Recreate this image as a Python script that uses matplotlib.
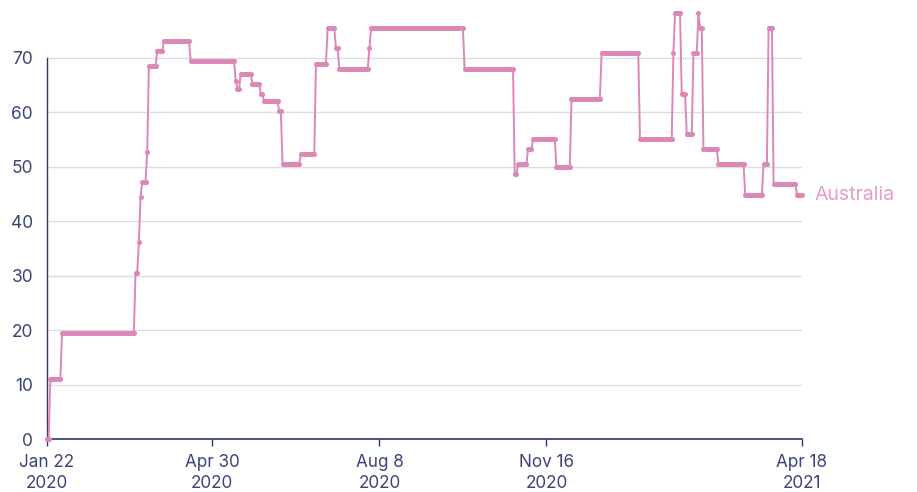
import matplotlib
matplotlib.use("Agg")
import matplotlib.pyplot as plt
import pandas as pd
import numpy as np

plt.rcParams['font.family'] = ['Inter', 'DejaVu Sans']

country = "Australia"
# Stringency index: dates when the value changes, and the new value
change_dates = [
    "2020-01-22", "2020-01-24", "2020-01-31", "2020-03-15", "2020-03-17",
    "2020-03-18", "2020-03-19", "2020-03-22", "2020-03-23", "2020-03-28",
    "2020-04-01", "2020-04-17", "2020-05-14", "2020-05-15", "2020-05-17",
    "2020-05-24", "2020-05-29", "2020-05-31", "2020-06-09", "2020-06-11",
    "2020-06-22", "2020-07-01", "2020-07-08", "2020-07-13", "2020-07-15",
    "2020-08-02", "2020-08-03", "2020-09-28", "2020-10-28", "2020-10-30",
    "2020-11-05", "2020-11-08", "2020-11-22", "2020-12-01", "2020-12-19",
    "2021-01-11", "2021-01-31", "2021-02-01", "2021-02-05", "2021-02-08",
    "2021-02-12", "2021-02-15", "2021-02-16", "2021-02-18", "2021-02-27",
    "2021-03-15", "2021-03-26", "2021-03-29", "2021-04-01", "2021-04-15",
]
change_values = [
    0.0, 11.11, 19.44, 30.56, 36.11,
    44.44, 47.22, 52.78, 68.52, 71.30,
    73.15, 69.44, 65.74, 64.35, 67.13,
    65.28, 63.43, 62.04, 60.19, 50.46,
    52.31, 68.98, 75.46, 71.76, 67.96,
    71.76, 75.46, 67.96, 48.61, 50.46,
    53.24, 55.09, 50.00, 62.50, 70.83,
    55.09, 70.83, 78.24, 63.43, 56.02,
    70.83, 78.24, 75.46, 53.24, 50.46,
    44.91, 50.46, 75.46, 46.76, 44.91,
]
end_date = "2021-04-18"

tick_dates = ["2020-01-22", "2020-04-30", "2020-08-08", "2020-11-16", "2021-04-18"]
tick_labels = ["Jan 22\n2020", "Apr 30\n2020", "Aug 8\n2020", "Nov 16\n2020", "Apr 18\n2021"]
y_ticks = [0, 10, 20, 30, 40, 50, 60, 70]

# daily series (value holds until the next change)
s = pd.Series(change_values, index=pd.to_datetime(change_dates))
days = pd.date_range(change_dates[0], end_date, freq="D")
daily = s.reindex(days).ffill()

line_color = "#dc87b8"
label_color = "#e79cc8"
axis_color = "#2c3570"
text_color = "#3b4478"
grid_color = "#dcdce4"

fig = plt.figure(figsize=(9.17, 4.92), dpi=100)
ax = fig.add_axes([47/917, 1-439/492, (802-47)/917, (439-9)/492])

ax.plot(daily.index, daily.values, color=line_color, lw=1.4,
        marker="o", ms=2.6, mec=line_color, mfc=line_color, zorder=3, clip_on=False)

ax.set_xlim(days[0], days[-1])
ax.set_ylim(0, 79)
ax.set_yticks(y_ticks)
ax.set_yticklabels([str(v) for v in y_ticks])
ax.set_xticks(pd.to_datetime(tick_dates))
ax.set_xticklabels(tick_labels)

for v in y_ticks[1:]:
    ax.axhline(v, color=grid_color, lw=1, zorder=1)

for sp in ["top", "right"]:
    ax.spines[sp].set_visible(False)
ax.spines["left"].set_bounds(0, 70)
ax.spines["left"].set_color(axis_color)
ax.spines["bottom"].set_color(axis_color)
ax.spines["left"].set_linewidth(1.0)
ax.spines["bottom"].set_linewidth(1.2)

ax.tick_params(axis="y", length=0, pad=10, labelsize=12.5, labelcolor=text_color)
ax.tick_params(axis="x", length=5, width=1, color=axis_color, pad=6,
               labelsize=12.3, labelcolor=text_color)
for t in ax.get_xticklabels():
    t.set_linespacing(1.25)

ax.annotate(country, xy=(days[-1], daily.values[-1]), xytext=(9, 0),
            textcoords="offset points", va="center", ha="left",
            fontsize=14, color=label_color)

fig.savefig("out.png", dpi=100)
